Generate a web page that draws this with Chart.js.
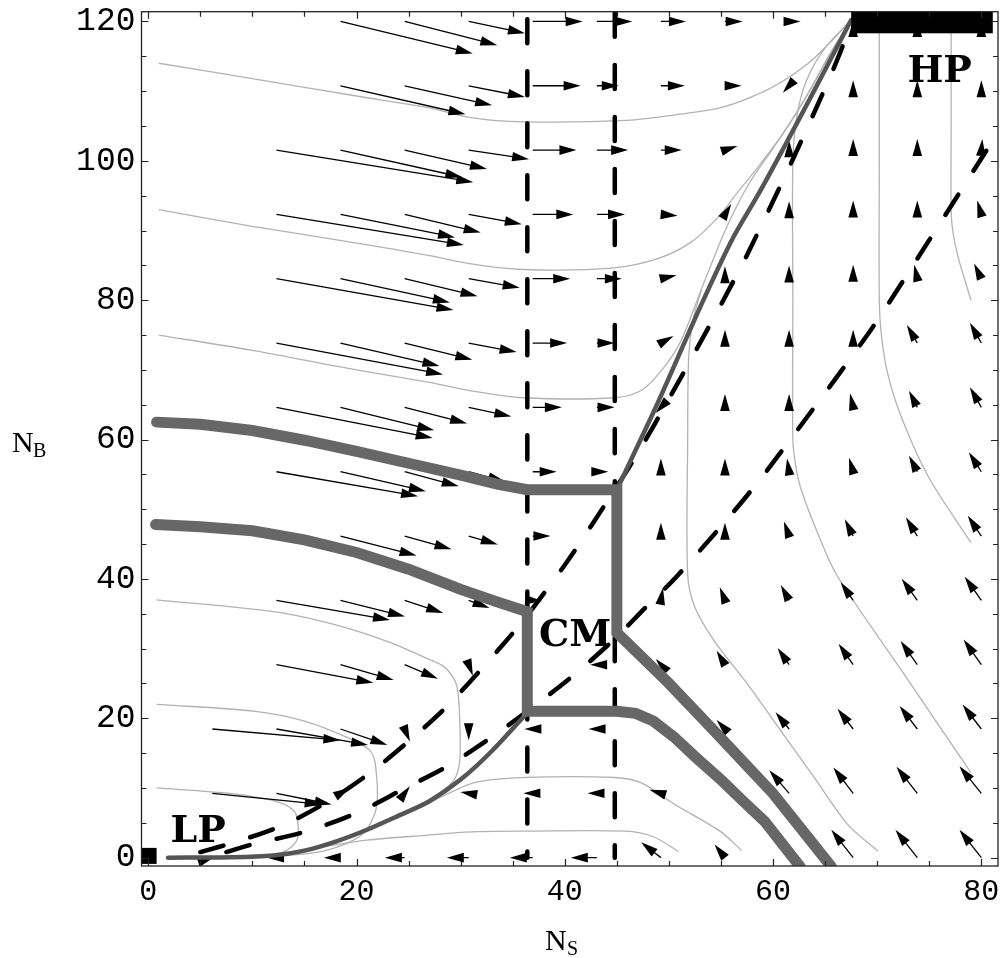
<!DOCTYPE html>
<html>
<head>
<meta charset="utf-8">
<script src="https://cdn.jsdelivr.net/npm/chart.js@4.4.0/dist/chart.umd.min.js"></script>
<style>
  html, body { margin: 0; padding: 0; background: #fff; }
  canvas { display: block; }
</style>
</head>
<body>
<canvas id="phaseChart" width="1005" height="958"></canvas>
<script>
// tick values
const xTicks = [0, 20, 40, 60, 80];
const yTicks = [0, 20, 40, 60, 80, 100, 120];
const xMinorTicks = [0, 5, 10, 15, 20, 25, 30, 35, 40, 45, 50, 55, 60, 65, 70, 75, 80];
const yMinorTicks = [0, 5, 10, 15, 20, 25, 30, 35, 40, 45, 50, 55, 60, 65, 70, 75, 80, 85, 90, 95, 100, 105, 110, 115, 120];

// thin grey trajectories (N_S, N_B)
const thinA = [[1,114],[10,111.8],[20,109.3],[27,107.6],[31,106.2],[36,105.6],[46,105.8],[50.6,106.6],[54.9,107.6],[58,109.2],[61,111.5],[64,114.8],[67.5,120.2]];
const thinB = [[1,93],[10,90.6],[20,88.2],[27,86.4],[31,85.2],[36,84.4],[44.5,84.6],[49,86],[52.2,88.4],[54.9,92.2],[56.5,95.3],[58.5,99],[61,104],[63.5,110],[65.5,115.5],[67.5,120.2]];
const thinC = [[1,75],[10,72.8],[20,70],[27,68.2],[31,67],[36,66],[44.8,66],[47.4,67.1],[49.6,70.5],[51.2,74.3],[53.1,81.5],[55.4,90],[57.6,96.5],[60,101.8],[62.5,107.5],[65,114],[67.5,120.2]];
const thinD = [[0.8,37],[12.5,35.2],[18,33.4],[23,31],[26.6,28.7],[28.5,27.3],[29.6,24.8],[29.9,20],[29.9,13.8],[29.3,11],[27.5,8.8],[25.5,7]];
const thinE = [[0.8,22],[10.3,21],[15,19.6],[19.2,17.2],[21.2,15.5],[21.8,13.5],[21.9,7.1],[20.5,3.3],[16.7,0.9],[12.2,0.2]];
const thinF = [[0.8,10],[8,9.2],[12.2,8.1],[14,6.7],[14.4,4.5],[14.2,2.3],[12.8,0.7],[10,0.15]];
const thinG = [[27,7.9],[31.4,10.8],[36.2,11.5],[44.8,11.5],[47.4,10.7],[50.6,7.6],[54.9,3.8],[57,1]];
const thinH = [[17,1.6],[21,2.5],[26.6,3.2],[31,3.7],[36.2,3.8],[45.8,3.8],[48.5,3],[50.9,0.9]];
const thinI1 = [[53.1,81.5],[52.3,77],[51.9,72],[51.8,60],[51.8,40.6],[52.5,35.9],[54.4,31],[57.6,24.8],[60.8,18.1],[64,11.4],[67.2,4.7],[70.1,0.9]];
const thinI2 = [[67.5,120.2],[65,116.2],[63.2,111.5],[62.3,106.5],[61.9,100],[61.9,80],[61.9,60],[62.2,56],[62.7,52.8],[64.3,46.5],[66.1,40.6],[72.5,26.5],[79,12.2]];
const thinI3 = [[70.2,119],[70.2,100],[70.2,80],[70.4,75],[71,69.5],[72.3,63.3],[74.9,54.7],[79,45.2]];
const thinI4 = [[77.1,119],[77.1,105],[77.1,92.7],[77.3,89.5],[77.8,86],[78.4,83],[79,80]];

// dashed nullclines
const dashV1 = [[36.4,120.3],[36.4,0]];
const dashV2 = [[44.8,121.2],[44.8,0]];
const dashD1 = [[5,0.8],[8.5,2.3],[13,4.7],[17.3,8.1],[21.5,12.4],[26,18],[29,22.2],[33.9,30.3],[36.2,34.4],[40,42],[42.7,48],[46.7,57.3],[50.4,66.9],[54.9,79.1],[57.5,86.5],[61.8,99.9],[65.6,112.5],[67.5,119.5]];
const dashD2 = [[7.5,0.8],[10,1.9],[15,3.7],[20,6.4],[24.7,10],[28.7,13.1],[32.8,17.1],[36.2,20.8],[40.7,26],[44.5,31],[47.7,35.8],[50.9,40.6],[57.8,52.5],[63.8,64.3],[69.6,76.2],[74.9,88.4],[80.5,101.5]];

// medium separatrix
const sepLow = [[1.9,0],[8,0.05],[12,0.3],[15,1.0],[18,2.3],[21,4.0],[24,6.0],[27,8.1],[30,11.2],[33,15.3],[36.4,20.8]];
const sepHigh = [[45,52.8],[49,65.5],[53,79],[56,88.5],[58.7,95.5],[61,101.8],[63.5,108.8],[65.5,114.5],[67.5,120.2]];

// thick basin boundaries
const basinUpper = [[0.8,62.5],[5,62.2],[10,61.3],[15,59.9],[20,58.3],[25,56.6],[30,54.9],[33.5,53.6],[36.4,52.8],[45,52.8],[45,32.3],[50,25],[54.4,18.1],[60,9.2],[65.6,-1.3]];
const basinLower = [[0.7,47.8],[5,47.5],[10,46.9],[15,45.6],[20,43.8],[25,41.4],[30,38.5],[33.5,36.7],[36.4,35.3],[36.4,21],[45,21],[46.8,20.7],[48.5,19.6],[50.5,17.3],[52.5,14.5],[54.9,11.3],[57.2,8],[59.2,5.2],[62.6,-1.3]];

// direction field: arrow tails on the grid, components (dN_S, dN_B)
const gridX = [0, 6.15, 12.31, 18.46, 24.62, 30.77, 36.92, 43.08, 49.23, 55.38, 61.54, 67.69, 73.85, 80];
const gridY = [120, 110.77, 101.54, 92.31, 83.08, 73.85, 64.62, 55.38, 46.15, 36.92, 27.69, 18.46, 9.23, 0];
const n = null;
const quiverU = [
  [n, n, n, 12.7, 8.9, 5.4, 4.8, 3.4, 2.4, 1.7, 1.1, 0, 0, 0],
  [n, n, n, 12, 8.4, 5.4, 4.6, 2.1, 2.3, 1.6, -0.6, 0, 0, 0],
  [n, n, 18.9, 11.7, 7.9, 5.8, 4.2, 3.0, 2.0, 1.2, 0, 0, 0, 0.1],
  [n, n, 18, 11, 7.3, 5.1, 3.9, 2.7, 1.6, 0.6, 0, 0, 0, -0.4],
  [n, n, 17, 10.5, 7, 4.9, 3.6, 2.4, 1.5, 0, 0, 0, -0.3, -0.7],
  [n, n, 16, 9.5, 6.5, 4.6, 3.3, 1.7, 1.2, 0, 0, 0, -1, -1.1],
  [n, n, 15, 9, 6, 4.1, 2.8, 1.7, -0.5, 0, 0, -0.3, -0.8, -1.1],
  [n, n, 13.6, 8.2, 5.2, 3.5, 2.3, 1.1, 0, 0, -0.2, -0.4, -0.8, -1.2],
  [n, n, n, 7.3, 4.5, 2.8, 1.7, n, 0, 0, -0.5, -0.8, -1.1, -1.3],
  [n, n, 10.9, 6.2, 3.7, 2.0, 0.9, n, 0.2, -0.5, -0.8, -1.2, -1.5, -1.6],
  [n, n, 9.3, 5.1, 3.2, 0.4, n, -0.65, -0.5, -0.8, -1.1, -1.4, -1.6, -1.7],
  [n, 12.3, 8.8, 4.5, 0.5, 0, -0.8, -0.8, n, -0.8, -1.3, -1.5, -1.7, -1.8],
  [n, 10.5, 5.3, 0.9, 0.5, -0.8, -0.9, -0.9, -1.1, n, -1.9, -1.9, -2, -2.1],
  [n, 0.2, -0.9, -1.6, -1.9, -2.1, -2.2, -2.5, -1.9, -1.0, n, -2.1, -2.1, -2.1]
];
const quiverV = [
  [n, n, n, -4.6, -3.4, -1.7, 0, 0, 0, 0, 0, 0.2, 0.2, 0.2],
  [n, n, n, -4.1, -2.8, -1.6, 0, 0, 0, 0, -1.0, 0.8, 0.8, 0.8],
  [n, n, -4.6, -3.9, -2.7, -1.3, 0, 0, 0, 0.6, 1.4, 1.6, 1.6, 1.6],
  [n, n, -4.4, -3.3, -2.6, -1.4, 0, 0, -0.2, 1.5, 1.9, 2.0, 2.0, 2.0],
  [n, n, -4.5, -3.4, -2.5, -1.3, 0, 0, 0.5, 1.8, 1.9, 2.0, 2.0, 2.2],
  [n, n, -4.5, -3.3, -2.4, -1.3, 0, 0, 1.0, 1.9, 1.9, 1.9, 2.6, 2.9],
  [n, n, -4.4, -3.3, -2.3, -1.3, 0, 0, -0.8, 1.9, 1.9, 2.0, 2.4, 2.9],
  [n, n, -3.5, -2.8, -2.1, -1.4, 0, 0, 1.9, 1.9, 1.9, 2.0, 2.3, 2.8],
  [n, n, n, -2.8, -1.9, -1.2, 0, n, 1.9, 1.9, 2.1, 2.4, 2.7, 2.9],
  [n, n, -2.8, -2.3, -1.8, -1.1, -0.1, n, 1.8, 1.9, 2.2, 2.6, 3.1, 3.4],
  [n, n, -2.6, -2.2, -2.0, -1.6, n, 0, 0.8, 2.0, 2.4, 3.0, 3.4, 3.6],
  [n, -1.6, -2.3, -2.3, -1.8, -1.6, 0, 0, n, 1.3, 2.4, 2.9, 3.3, 3.5],
  [n, -1.6, -1.6, 0.8, 1.0, 0.2, 0, 0, 0.5, n, 3.3, 3.7, 3.8, 3.9],
  [n, 0.1, 0, 0, 0, 0, 0, 0, 2.2, 1.9, n, 4, 4, 4]
];

// fixed-point markers and region labels
const lpBox = [-0.6, 0.8, -0.9, 1.4];
const hpBox = [67.5, 81.1, 118.3, 121.4];
const regionLabels = ['LP', 'CM', 'HP'];
const regionLabelX = [4.8, 41, 76];
const regionLabelY = [4.3, 32.4, 113.3];

function curve(label, pts, color, width, extra) {
  return Object.assign({
    label: label,
    data: pts.map(p => ({ x: p[0], y: p[1] })),
    showLine: true,
    pointRadius: 0,
    borderColor: color,
    borderWidth: width,
    tension: 0.3,
    fill: false,
    clip: 0
  }, extra || {});
}

const thinStyle = { order: 6 };
const dashStyle = { order: 5, borderDash: [24, 28], borderCapStyle: 'round', tension: 0.3 };

const datasets = [
  curve('a', thinA, '#b2b2b2', 1.3, thinStyle),
  curve('b', thinB, '#b2b2b2', 1.3, thinStyle),
  curve('c', thinC, '#b2b2b2', 1.3, thinStyle),
  curve('d', thinD, '#b2b2b2', 1.3, thinStyle),
  curve('e', thinE, '#b2b2b2', 1.3, thinStyle),
  curve('f', thinF, '#b2b2b2', 1.3, thinStyle),
  curve('g', thinG, '#b2b2b2', 1.3, thinStyle),
  curve('h', thinH, '#b2b2b2', 1.3, thinStyle),
  curve('i1', thinI1, '#b2b2b2', 1.3, thinStyle),
  curve('i2', thinI2, '#b2b2b2', 1.3, thinStyle),
  curve('i3', thinI3, '#b2b2b2', 1.3, thinStyle),
  curve('i4', thinI4, '#b2b2b2', 1.3, thinStyle),
  curve('nullcline S1', dashV1, '#000', 4.5, dashStyle),
  curve('nullcline S2', dashV2, '#000', 4.5, dashStyle),
  curve('nullcline B1', dashD1, '#000', 4.5, dashStyle),
  curve('nullcline B2', dashD2, '#000', 4.5, dashStyle),
  curve('separatrix low', sepLow, '#555', 4.5, { order: 3, borderCapStyle: 'round' }),
  curve('separatrix high', sepHigh, '#555', 4.5, { order: 3, borderCapStyle: 'round' }),
  curve('basin upper', basinUpper, '#676767', 11, { order: 2, tension: 0, borderCapStyle: 'round', borderJoinStyle: 'miter' }),
  curve('basin lower', basinLower, '#676767', 11, { order: 2, tension: 0, borderCapStyle: 'round', borderJoinStyle: 'miter' })
];

function drawArrows(chart) {
  const ctx = chart.ctx, a = chart.chartArea, xs = chart.scales.x, ys = chart.scales.y;
  const HL = 17, HW = 4.8;
  ctx.save();
  ctx.beginPath();
  ctx.rect(a.left, a.top, a.right - a.left, a.bottom - a.top);
  ctx.clip();
  ctx.fillStyle = '#000';
  ctx.strokeStyle = '#000';
  ctx.lineWidth = 1.3;
  gridY.forEach((gy, r) => {
    gridX.forEach((gx, c) => {
      const u = quiverU[r][c], v = quiverV[r][c];
      if (u === null || v === null) return;
      const x0 = xs.getPixelForValue(gx), y0 = ys.getPixelForValue(gy);
      const x1 = xs.getPixelForValue(gx + u), y1 = ys.getPixelForValue(gy + v);
      const len = Math.hypot(x1 - x0, y1 - y0);
      if (len < 0.01) return;
      const ux = (x1 - x0) / len, uy = (y1 - y0) / len;
      const bx = x1 - ux * HL, by = y1 - uy * HL;
      if (len > HL) {
        ctx.beginPath();
        ctx.moveTo(x0, y0);
        ctx.lineTo(bx + ux * 2, by + uy * 2);
        ctx.stroke();
      }
      ctx.beginPath();
      ctx.moveTo(x1, y1);
      ctx.lineTo(bx - uy * HW, by + ux * HW);
      ctx.lineTo(bx + uy * HW, by - ux * HW);
      ctx.closePath();
      ctx.fill();
    });
  });
  ctx.restore();
}

const phasePlugin = {
  id: 'phasePlugin',
  beforeDatasetsDraw(chart) { chart.$arrowsDone = false; },
  beforeDatasetDraw(chart, args) {
    const ds = chart.data.datasets[args.index];
    if (!chart.$arrowsDone && ds.order <= 3) {
      drawArrows(chart);
      chart.$arrowsDone = true;
    }
  },
  afterDatasetsDraw(chart) {
    const ctx = chart.ctx, a = chart.chartArea, xs = chart.scales.x, ys = chart.scales.y;
    if (!chart.$arrowsDone) drawArrows(chart);
    ctx.save();
    ctx.beginPath();
    ctx.rect(a.left, a.top, a.right - a.left, a.bottom - a.top);
    ctx.clip();
    ctx.fillStyle = '#000';
    [lpBox, hpBox].forEach(b => {
      const x0 = xs.getPixelForValue(b[0]), x1 = xs.getPixelForValue(b[1]);
      const y0 = ys.getPixelForValue(b[3]), y1 = ys.getPixelForValue(b[2]);
      ctx.fillRect(x0, y0, x1 - x0, y1 - y0);
    });
    // cap height of DejaVu Serif bold is ~0.73 em: put baseline half a cap below the centre
    ctx.font = 'bold 38px "DejaVu Serif"';
    ctx.textAlign = 'center';
    ctx.textBaseline = 'alphabetic';
    regionLabels.forEach((t, i) => {
      ctx.fillText(t, xs.getPixelForValue(regionLabelX[i]), ys.getPixelForValue(regionLabelY[i]) + 14);
    });
    ctx.restore();
  },
  afterDraw(chart) {
    const ctx = chart.ctx, a = chart.chartArea, xs = chart.scales.x, ys = chart.scales.y;
    ctx.save();
    ctx.strokeStyle = '#222';
    ctx.lineWidth = 1.3;
    ctx.strokeRect(a.left, a.top, a.right - a.left, a.bottom - a.top);
    ctx.lineWidth = 1.2;
    ctx.beginPath();
    xMinorTicks.forEach(v => {
      const p = Math.round(xs.getPixelForValue(v)) + 0.5;
      const len = xTicks.includes(v) ? 7 : 5;
      ctx.moveTo(p, a.bottom); ctx.lineTo(p, a.bottom - len);
      ctx.moveTo(p, a.top); ctx.lineTo(p, a.top + len);
    });
    yMinorTicks.forEach(v => {
      const p = Math.round(ys.getPixelForValue(v)) + 0.5;
      const len = yTicks.includes(v) ? 7 : 5;
      ctx.moveTo(a.left, p); ctx.lineTo(a.left + len, p);
      ctx.moveTo(a.right, p); ctx.lineTo(a.right - len, p);
    });
    ctx.stroke();
    // axis titles with subscripts
    ctx.fillStyle = '#000';
    ctx.textBaseline = 'alphabetic';
    ctx.textAlign = 'left';
    ctx.font = '30px "Liberation Serif"';
    ctx.fillText('N', 12, 452);
    ctx.fillText('N', 545, 950);
    ctx.font = '20px "Liberation Serif"';
    ctx.fillText('B', 33, 457);
    ctx.fillText('S', 567, 955);
    ctx.restore();
  }
};

new Chart(document.getElementById('phaseChart').getContext('2d'), {
  type: 'scatter',
  data: { datasets: datasets },
  options: {
    responsive: false,
    animation: false,
    devicePixelRatio: 1,
    events: [],
    layout: { padding: { top: 11.7, right: 7, left: 0, bottom: 0 } },
    plugins: { legend: { display: false }, tooltip: { enabled: false } },
    scales: {
      x: {
        type: 'linear',
        min: -0.65,
        max: 81.6,
        grid: { display: false, drawTicks: false },
        border: { display: false },
        afterBuildTicks: s => { s.ticks = xTicks.map(v => ({ value: v })); },
        afterFit: s => { s.height = 92; s.paddingLeft = 0; s.paddingRight = 0; },
        ticks: { color: '#000', padding: 8, maxRotation: 0, autoSkip: false, font: { family: 'Liberation Mono', size: 30 } }
      },
      y: {
        type: 'linear',
        min: -1.2,
        max: 121.4,
        grid: { display: false, drawTicks: false },
        border: { display: false },
        afterBuildTicks: s => { s.ticks = yTicks.map(v => ({ value: v })); },
        afterFit: s => { s.width = 141.5; s.paddingTop = 0; s.paddingBottom = 0; },
        ticks: { color: '#000', padding: 6, autoSkip: false, font: { family: 'Liberation Mono', size: 33 } }
      }
    }
  },
  plugins: [phasePlugin]
});
</script>
</body>
</html>
